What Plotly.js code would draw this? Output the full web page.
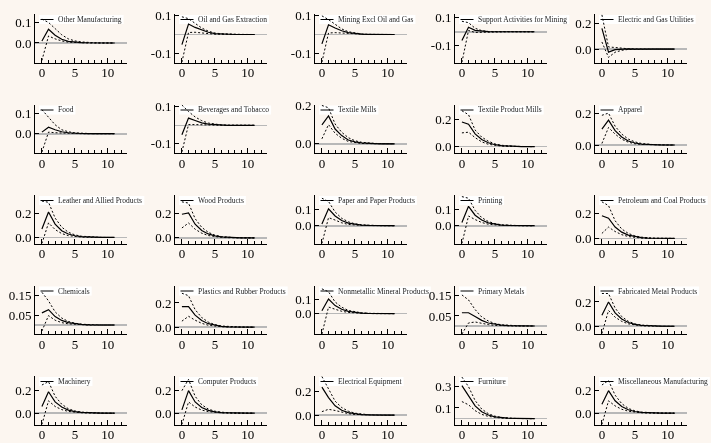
<!DOCTYPE html>
<html><head><meta charset="utf-8">
<script src="https://cdn.plot.ly/plotly-3.0.1.min.js"></script>
<style>html,body{margin:0;padding:0;background:#fcf6f0;} #chart{width:711px;height:443px;will-change:transform;}</style>
</head><body><div id="chart"></div>
<script>
const horizon = [0,1,2,3,4,5,6,7,8,9,10,11];

const industries = [
  "Other Manufacturing","Oil and Gas Extraction","Mining Excl Oil and Gas","Support Activities for Mining","Electric and Gas Utilities",
  "Food","Beverages and Tobacco","Textile Mills","Textile Product Mills","Apparel",
  "Leather and Allied Products","Wood Products","Paper and Paper Products","Printing","Petroleum and Coal Products",
  "Chemicals","Plastics and Rubber Products","Nonmetallic Mineral Products","Primary Metals","Fabricated Metal Products",
  "Machinery","Computer Products","Electrical Equipment","Furniture","Miscellaneous Manufacturing"
];

const irf = [
  [0.010,0.067,0.038,0.018,0.008,0.004,0.002,0.001,0,0,0,0],
  [-0.054,0.056,0.038,0.024,0.012,0.005,0.002,0.001,0,0,0,0],
  [-0.050,0.052,0.035,0.020,0.010,0.004,0.002,0.001,0,0,0,0],
  [-0.063,0.032,0.010,0.003,0.001,0,0,0,0,0,0,0],
  [0.161,-0.024,-0.005,0.000,0.001,0,0,0,0,0,0,0],
  [0.008,0.033,0.020,0.010,0.005,0.002,0.001,0,0,0,0,0],
  [-0.051,0.039,0.026,0.013,0.006,0.003,0.001,0,0,0,0,0],
  [0.099,0.145,0.077,0.043,0.020,0.010,0.005,0.002,0.001,0,0,0],
  [0.181,0.165,0.094,0.052,0.028,0.014,0.007,0.003,0.001,0,0,0],
  [0.102,0.159,0.092,0.051,0.026,0.013,0.006,0.003,0.001,0,0,0],
  [0.070,0.210,0.110,0.055,0.028,0.014,0.007,0.003,0.001,0,0,0],
  [0.190,0.200,0.110,0.060,0.032,0.016,0.008,0.004,0.002,0.001,0,0],
  [0.010,0.105,0.060,0.032,0.016,0.008,0.004,0.002,0.001,0,0,0],
  [0.020,0.120,0.065,0.035,0.018,0.009,0.004,0.002,0.001,0,0,0],
  [0.180,0.160,0.090,0.050,0.026,0.013,0.006,0.003,0.001,0,0,0],
  [0.061,0.077,0.042,0.023,0.012,0.006,0.003,0.001,0,0,0,0],
  [0.170,0.170,0.100,0.055,0.029,0.015,0.007,0.003,0.001,0,0,0],
  [0.020,0.100,0.055,0.030,0.015,0.007,0.003,0.001,0,0,0,0],
  [0.066,0.066,0.047,0.028,0.015,0.008,0.004,0.002,0.001,0,0,0],
  [0.090,0.200,0.110,0.060,0.031,0.015,0.007,0.003,0.001,0,0,0],
  [0.060,0.190,0.100,0.055,0.028,0.014,0.007,0.003,0.001,0,0,0],
  [0.030,0.200,0.100,0.050,0.025,0.012,0.006,0.003,0.001,0,0,0],
  [0.240,0.150,0.080,0.042,0.022,0.011,0.005,0.002,0.001,0,0,0],
  [0.310,0.220,0.120,0.065,0.034,0.017,0.008,0.004,0.002,0.001,0,0],
  [0.080,0.200,0.110,0.060,0.031,0.015,0.007,0.003,0.001,0,0,0]
];

const upperBand = [
  [0.116,0.100,0.070,0.040,0.020,0.010,0.005,0.002,0.001,0,0,0],
  [0.095,0.085,0.060,0.035,0.018,0.008,0.004,0.002,0.001,0,0,0],
  [0.100,0.080,0.055,0.030,0.015,0.007,0.003,0.001,0,0,0,0],
  [0.075,0.065,0.025,0.008,0.002,0.001,0,0,0,0,0,0],
  [0.266,0.016,0.012,0.005,0.002,0.001,0,0,0,0,0,0],
  [0.121,0.083,0.045,0.020,0.010,0.004,0.002,0.001,0,0,0,0],
  [0.109,0.074,0.045,0.025,0.012,0.005,0.002,0.001,0,0,0,0],
  [0.200,0.188,0.103,0.060,0.032,0.016,0.008,0.004,0.002,0.001,0,0],
  [0.264,0.235,0.122,0.070,0.040,0.020,0.010,0.005,0.002,0.001,0,0],
  [0.190,0.204,0.120,0.070,0.038,0.020,0.010,0.005,0.002,0.001,0,0],
  [0.300,0.290,0.160,0.085,0.043,0.021,0.010,0.005,0.002,0.001,0,0],
  [0.290,0.280,0.155,0.085,0.045,0.022,0.011,0.005,0.002,0.001,0,0],
  [0.170,0.150,0.085,0.046,0.024,0.012,0.006,0.003,0.001,0,0,0],
  [0.180,0.170,0.095,0.050,0.026,0.013,0.006,0.003,0.001,0,0,0],
  [0.290,0.260,0.140,0.075,0.040,0.020,0.010,0.005,0.002,0.001,0,0],
  [0.164,0.121,0.066,0.035,0.018,0.009,0.004,0.002,0.001,0,0,0],
  [0.280,0.260,0.145,0.080,0.042,0.021,0.010,0.005,0.002,0.001,0,0],
  [0.170,0.150,0.080,0.044,0.022,0.011,0.005,0.002,0.001,0,0,0],
  [0.155,0.130,0.082,0.045,0.025,0.012,0.006,0.003,0.001,0,0,0],
  [0.270,0.270,0.150,0.080,0.041,0.020,0.010,0.005,0.002,0.001,0,0],
  [0.250,0.280,0.150,0.080,0.040,0.020,0.010,0.005,0.002,0.001,0,0],
  [0.200,0.300,0.150,0.075,0.037,0.018,0.009,0.004,0.002,0.001,0,0],
  [0.330,0.230,0.120,0.065,0.034,0.017,0.008,0.004,0.002,0.001,0,0],
  [0.390,0.300,0.170,0.090,0.047,0.023,0.011,0.005,0.002,0.001,0,0],
  [0.250,0.290,0.160,0.085,0.043,0.021,0.010,0.005,0.002,0.001,0,0]
];

const lowerBand = [
  [-0.085,0.034,0.020,0.010,0.004,0.002,0.001,0,0,0,0,0],
  [-0.148,0.011,0.012,0.010,0.005,0.002,0.001,0,0,0,0,0],
  [-0.148,0.008,0.010,0.008,0.004,0.002,0.001,0,0,0,0,0],
  [-0.218,0.009,-0.005,-0.003,-0.001,0,0,0,0,0,0,0],
  [0.055,-0.065,-0.025,-0.010,-0.003,-0.001,0,0,0,0,0,0],
  [-0.092,0.008,0.005,0.003,0.001,0,0,0,0,0,0,0],
  [-0.143,0.004,0.004,0.002,0.001,0,0,0,0,0,0,0],
  [0.026,0.100,0.055,0.029,0.012,0.005,0.002,0.001,0,0,0,0],
  [0.101,0.106,0.066,0.035,0.017,0.008,0.004,0.002,0.001,0,0,0],
  [0.010,0.112,0.070,0.037,0.018,0.008,0.004,0.002,0.001,0,0,0],
  [-0.050,0.120,0.065,0.032,0.015,0.007,0.003,0.001,0,0,0,0],
  [0.080,0.120,0.070,0.038,0.019,0.009,0.004,0.002,0.001,0,0,0],
  [-0.110,0.050,0.035,0.018,0.008,0.004,0.002,0.001,0,0,0,0],
  [-0.110,0.060,0.038,0.020,0.009,0.004,0.002,0.001,0,0,0,0],
  [0.040,0.090,0.055,0.030,0.015,0.007,0.003,0.001,0,0,0,0],
  [-0.030,0.047,0.024,0.012,0.006,0.003,0.001,0,0,0,0,0],
  [0.050,0.090,0.058,0.032,0.016,0.008,0.004,0.002,0.001,0,0,0],
  [-0.140,0.045,0.030,0.016,0.008,0.004,0.002,0.001,0,0,0,0],
  [-0.040,0.015,0.020,0.013,0.007,0.003,0.001,0,0,0,0,0],
  [-0.060,0.130,0.075,0.040,0.020,0.009,0.004,0.002,0.001,0,0,0],
  [-0.100,0.110,0.060,0.032,0.016,0.008,0.004,0.002,0.001,0,0,0],
  [-0.100,0.100,0.055,0.028,0.014,0.007,0.003,0.001,0,0,0,0],
  [0.030,0.050,0.040,0.025,0.013,0.006,0.003,0.001,0,0,0,0],
  [0.160,0.130,0.075,0.040,0.021,0.010,0.005,0.002,0.001,0,0,0],
  [-0.100,0.110,0.065,0.035,0.018,0.008,0.004,0.002,0.001,0,0,0]
];

const yTickValues = [
  [0,0.1],[-0.1,0.1],[-0.1,0.1],[-0.1,0.1],[0,0.2],
  [0,0.1],[-0.1,0.1],[0,0.2],[0,0.2],[0,0.2],
  [0,0.2],[0,0.2],[0,0.1],[0,0.1],[0,0.2],
  [0.05,0.15],[0,0.2],[0,0.1],[0.05,0.15],[0,0.2],
  [0,0.2],[0,0.2],[0,0.2],[0.1,0.3],[0,0.2]
];

const yAxisRanges = [
  [-0.095,0.141],[-0.15,0.11],[-0.15,0.11],[-0.22,0.127],[-0.105,0.273],
  [-0.097,0.147],[-0.149,0.112],[-0.048,0.205],[-0.047,0.31],[-0.051,0.259],
  [-0.05,0.35],[-0.045,0.345],[-0.11,0.19],[-0.11,0.19],[-0.04,0.344],
  [-0.045,0.198],[-0.056,0.344],[-0.14,0.193],[-0.04,0.202],[-0.064,0.336],
  [-0.1,0.33],[-0.1,0.33],[-0.08,0.335],[-0.055,0.4],[-0.1,0.33]
];

const W = 711, H = 443;
const colStep = 140, rowStep = 90.5, plotLeft = 35, plotTop = 14, plotW = 92, plotH = 48.5;
const serif = '"Liberation Serif", "Times New Roman", serif';
const bg = '#fcf6f0';

const ctx = document.createElement('canvas').getContext('2d');
ctx.font = '7.5px "Liberation Serif"';

const traces = [];
const layout = {
  width: W, height: H,
  margin: {l:0, r:0, t:0, b:0},
  paper_bgcolor: bg,
  plot_bgcolor: bg,
  showlegend: false,
  font: {family: serif, size: 13, color: '#000'},
  shapes: [], annotations: []
};

function fmt(vals) {
  let d = 1;
  vals.forEach(v => { if (Math.abs(Math.round(v*10) - v*10) > 1e-9) d = 2; });
  return vals.map(v => v.toFixed(d));
}

for (let i = 0; i < industries.length; i++) {
  const r = Math.floor(i / 5), c = i % 5;
  const sfx = i === 0 ? '' : String(i + 1);
  const x0 = plotLeft + c * colStep, y0 = plotTop + r * rowStep;
  layout['xaxis' + sfx] = {
    domain: [x0 / W, (x0 + plotW) / W], anchor: 'y' + sfx,
    range: [-1.05, 12.9], tickmode: 'linear', tick0: 0, dtick: 5,
    ticks: 'inside', ticklen: 5, tickwidth: 1, tickcolor: '#000',
    minor: {tickmode: 'linear', tick0: 0, dtick: 1, ticks: 'inside', ticklen: 3, tickwidth: 1, tickcolor: '#000'},
    showline: true, linecolor: '#000', linewidth: 1, mirror: false,
    showgrid: false, zeroline: false, fixedrange: true, ticklabelstandoff: -2,
    tickfont: {family: serif, size: 13, color: '#000'}
  };
  const yr = yAxisRanges[i];
  layout['yaxis' + sfx] = {
    domain: [1 - (y0 + plotH) / H, 1 - y0 / H], anchor: 'x' + sfx,
    range: yr, tickmode: 'array',
    tickvals: yTickValues[i].concat([yr[1]]), ticktext: fmt(yTickValues[i]).concat(['']),
    ticks: 'inside', ticklen: 4, tickwidth: 1, tickcolor: '#000',
    showline: true, linecolor: '#000', linewidth: 1,
    showgrid: false, zeroline: true, zerolinecolor: '#b8b8b8', zerolinewidth: 1.6, fixedrange: true,
    tickfont: {family: serif, size: 13, color: '#000'}
  };
  const xa = 'x' + sfx, ya = 'y' + sfx;
  traces.push({x: horizon, y: upperBand[i], xaxis: xa, yaxis: ya, type: 'scatter', mode: 'lines',
    line: {color: '#000', width: 1, dash: '2px,2px'}, hoverinfo: 'skip'});
  traces.push({x: horizon, y: lowerBand[i], xaxis: xa, yaxis: ya, type: 'scatter', mode: 'lines',
    line: {color: '#000', width: 1, dash: '2px,2px'}, hoverinfo: 'skip'});
  traces.push({x: horizon, y: irf[i], xaxis: xa, yaxis: ya, type: 'scatter', mode: 'lines',
    line: {color: '#000', width: 1.2}, hoverinfo: 'skip', name: industries[i]});

  const tw = ctx.measureText(industries[i]).width;
  const cy = y0 + 5.5;
  const bx0 = x0 + 4, bx1 = x0 + 22 + tw + 3;
  layout.shapes.push({type: 'rect', xref: 'paper', yref: 'paper', layer: 'below',
    x0: bx0 / W, x1: bx1 / W, y0: 1 - (cy - 4.5) / H, y1: 1 - (cy + 4.5) / H,
    fillcolor: '#ffffff', line: {width: 0}});
  layout.shapes.push({type: 'line', xref: 'paper', yref: 'paper', layer: 'below',
    x0: (x0 + 5.5) / W, x1: (x0 + 18.5) / W, y0: 1 - cy / H, y1: 1 - cy / H,
    line: {color: '#000', width: 1}});
  layout.annotations.push({xref: 'paper', yref: 'paper', x: (x0 + 22) / W, y: 1 - cy / H,
    xanchor: 'left', yanchor: 'middle', showarrow: false, text: industries[i],
    font: {family: serif, size: 7.5, color: '#222'}, borderpad: 0});
}

Plotly.newPlot('chart', traces, layout, {displayModeBar: false, staticPlot: true});
</script>
</body></html>
